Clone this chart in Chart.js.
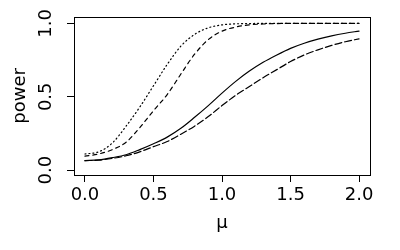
<!DOCTYPE html>
<html>
<head>
<meta charset="utf-8">
<script src="https://cdn.jsdelivr.net/npm/chart.js@4"></script>
<style>
  html, body { margin: 0; padding: 0; background: #fff; }
  #wrap { width: 400px; height: 250px; }
</style>
</head>
<body>
<div id="wrap"><canvas id="chart" width="400" height="250"></canvas></div>
<script>
// power curves, mu = 0 .. 2 in steps of 0.1
const mu = [0, 0.1, 0.2, 0.3, 0.4, 0.5, 0.6, 0.7, 0.8, 0.9, 1.0,
            1.1, 1.2, 1.3, 1.4, 1.5, 1.6, 1.7, 1.8, 1.9, 2.0];
const powerSolid = [0.065, 0.07, 0.085, 0.105, 0.14, 0.18, 0.225, 0.285, 0.36, 0.44, 0.525,
                    0.605, 0.675, 0.735, 0.785, 0.83, 0.865, 0.893, 0.915, 0.933, 0.948];
const powerLongdash = [0.065, 0.068, 0.08, 0.098, 0.125, 0.16, 0.195, 0.245, 0.30, 0.365, 0.44,
                       0.51, 0.57, 0.63, 0.685, 0.74, 0.785, 0.82, 0.85, 0.875, 0.895];
const powerDashed = [0.095, 0.11, 0.14, 0.19, 0.29, 0.405, 0.515, 0.655, 0.79, 0.89, 0.947,
                     0.975, 0.99, 0.996, 0.999, 1, 1, 1, 1, 1, 1];
const powerDotted = [0.11, 0.125, 0.185, 0.30, 0.43, 0.575, 0.72, 0.845, 0.925, 0.97, 0.99,
                     0.997, 0.999, 1, 1, 1, 1, 1, 1, 1, 1];
const xTicks = [0, 0.5, 1, 1.5, 2];
const yTicks = [0, 0.5, 1];

const FONT = "'DejaVu Sans', sans-serif";

const toPoints = ys => mu.map((m, i) => ({ x: m, y: ys[i] }));

const series = (ys, dash) => ({
  data: toPoints(ys),
  borderColor: "#000",
  borderWidth: 1.2,
  borderDash: dash,
  borderCapStyle: "round",
  pointRadius: 0,
  cubicInterpolationMode: "monotone",
  fill: false
});

// R style box round the plot region
const boxPlugin = {
  id: "box",
  afterDraw(chart) {
    const { ctx, chartArea: a } = chart;
    ctx.save();
    ctx.strokeStyle = "#000";
    ctx.lineWidth = 1;
    ctx.strokeRect(Math.round(a.left) + 0.5, Math.round(a.top) + 0.5,
                   Math.round(a.right - a.left), Math.round(a.bottom - a.top));
    ctx.restore();
  }
};

new Chart(document.getElementById("chart"), {
  type: "line",
  data: {
    datasets: [
      series(powerSolid, []),
      series(powerLongdash, [7, 3]),
      series(powerDashed, [4, 4]),
      series(powerDotted, [1, 3])
    ]
  },
  options: {
    responsive: false,
    animation: false,
    layout: { padding: { top: 14, right: 30, left: 0, bottom: 0 } },
    plugins: { legend: { display: false }, tooltip: { enabled: false } },
    scales: {
      x: {
        type: "linear",
        min: -0.08,
        max: 2.08,
        afterBuildTicks: s => { s.ticks = xTicks.map(v => ({ value: v })); },
        afterFit: s => { s.height = 75; },
        grid: { drawOnChartArea: false, drawTicks: true, tickLength: 7, color: "#000" },
        border: { display: false },
        ticks: {
          color: "#000",
          font: { family: FONT, size: 18 },
          padding: 3,
          maxRotation: 0,
          callback: v => v.toFixed(1)
        },
        title: {
          display: true,
          text: "μ",
          color: "#000",
          font: { family: FONT, size: 18 },
          padding: { top: 0, bottom: 16 }
        }
      },
      y: {
        type: "linear",
        min: -0.033,
        max: 1.045,
        afterBuildTicks: s => { s.ticks = yTicks.map(v => ({ value: v })); },
        afterFit: s => { s.width = 74; },
        grid: { drawOnChartArea: false, drawTicks: true, tickLength: 7, color: "#000" },
        border: { display: false },
        ticks: {
          color: "#000",
          font: { family: FONT, size: 18 },
          padding: 6,
          minRotation: 90,
          maxRotation: 90,
          crossAlign: "center",
          callback: v => v.toFixed(1)
        },
        title: {
          display: true,
          text: "power",
          color: "#000",
          font: { family: FONT, size: 18 },
          padding: { top: 10, bottom: 0 }
        }
      }
    }
  },
  plugins: [boxPlugin]
});
</script>
</body>
</html>
